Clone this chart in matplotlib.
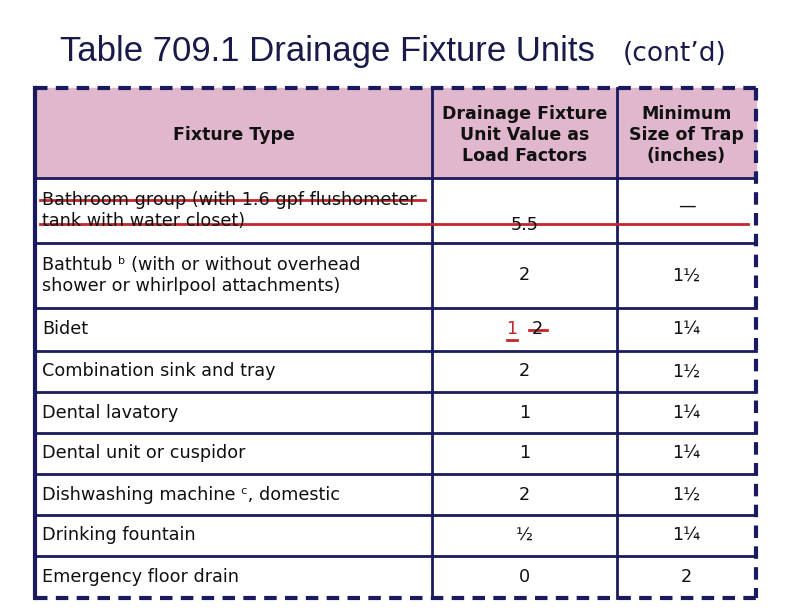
import matplotlib
matplotlib.use("Agg")
import matplotlib.pyplot as plt

title = "Table 709.1 Drainage Fixture Units"
title_suffix = "(cont’d)"
headers = ["Fixture Type", "Drainage Fixture\nUnit Value as\nLoad Factors", "Minimum\nSize of Trap\n(inches)"]
fixtures = ["Bathroom group (with 1.6 gpf flushometer\ntank with water closet)",
            "Bathtub ᵇ (with or without overhead\nshower or whirlpool attachments)",
            "Bidet", "Combination sink and tray", "Dental lavatory",
            "Dental unit or cuspidor", "Dishwashing machine ᶜ, domestic",
            "Drinking fountain", "Emergency floor drain"]
dfu = ["5.5", "2", "2", "2", "1", "1", "2", "½", "0"]
trap = ["—", "1½", "1¼", "1½", "1¼", "1¼", "1½", "1¼", "2"]

plt.rcParams['font.family'] = ['DejaVu Sans']
fig = plt.figure(figsize=(7.92, 6.12), dpi=100)
ax = fig.add_axes([0, 0, 1, 1])
ax.set_xlim(0, 792); ax.set_ylim(612, 0); ax.axis('off')

navy = '#1a1a5e'
red = '#c0282d'
L, C1, C2, R = 35, 432, 617, 756
T, HB = 88, 178
rows = [HB, 243, 308, 351, 392, 433, 474, 515, 556, 598]
fs = 12.7

ax.add_patch(plt.Rectangle((L, T), R - L, HB - T, color='#e0b7cd', zorder=0))
ax.text(60, 52, title, fontsize=25, family=['Liberation Sans', 'DejaVu Sans'], va='center', color='#1a1a4a')
ax.text(623, 54, title_suffix, fontsize=19, va='center', color='#1a1a4a')

for y in rows[:-1]:
    ax.plot([L, R], [y, y], color=navy, lw=2)
ax.plot([L, R], [T, T], color=navy, lw=3, ls=(0, (3, 2)))
ax.plot([L, R], [rows[-1], rows[-1]], color=navy, lw=3, ls=(0, (3, 2)))
ax.plot([L, L], [T, rows[-1]], color=navy, lw=3)
ax.plot([R, R], [T, rows[-1]], color=navy, lw=3, ls=(0, (3, 2)))
for x in (C1, C2):
    ax.plot([x, x], [T, rows[-1]], color=navy, lw=2)

hx = [(L + C1) / 2, (C1 + C2) / 2, (C2 + R) / 2]
for x, h in zip(hx, headers):
    ax.text(x, (T + HB) / 2 + 2, h, ha='center', va='center', fontsize=12.5,
            fontweight='bold', linespacing=1.2, color='#111111')

for i in range(len(fixtures)):
    y0, y1 = rows[i], rows[i + 1]
    ym = (y0 + y1) / 2
    ax.text(42, ym, fixtures[i], ha='left', va='center', fontsize=fs, linespacing=1.25, color='#111111')
    if i == 0:
        ax.text(hx[1], ym + 15, dfu[i], ha='center', va='center', fontsize=fs, color='#111111')
        ax.text(hx[2], ym - 5, trap[i], ha='center', va='center', fontsize=fs, color='#111111')
        ax.plot([40, 425], [200, 200], color=red, lw=2)
        ax.plot([40, 748], [224, 224], color=red, lw=2)
    elif i == 2:
        ax.text(hx[1] + 13, ym, dfu[i], ha='center', va='center', fontsize=fs, color='#111111')
        ax.plot([hx[1] + 4, hx[1] + 22], [ym, ym], color=red, lw=2)
        ax.text(hx[1] - 13, ym, "1", ha='center', va='center', fontsize=fs, color=red)
        ax.plot([hx[1] - 18, hx[1] - 8], [ym + 10, ym + 10], color=red, lw=2)
        ax.text(hx[2], ym, trap[i], ha='center', va='center', fontsize=fs, color='#111111')
    else:
        ax.text(hx[1], ym, dfu[i], ha='center', va='center', fontsize=fs, color='#111111')
        ax.text(hx[2], ym, trap[i], ha='center', va='center', fontsize=fs, color='#111111')

fig.savefig('out.png', dpi=100)
